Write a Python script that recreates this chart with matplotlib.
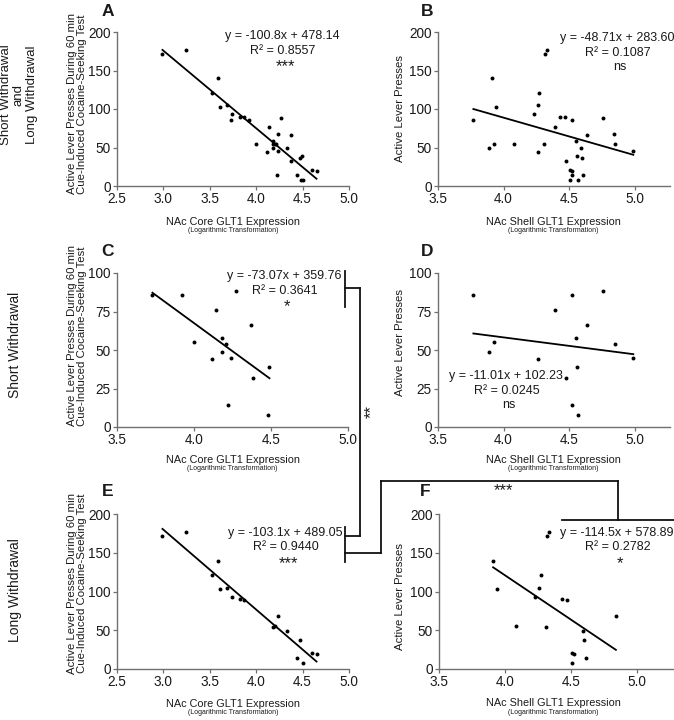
import matplotlib
matplotlib.use("Agg")
import matplotlib.pyplot as plt
from matplotlib.lines import Line2D

plt.rcParams['font.family'] = ['Liberation Sans', 'DejaVu Sans']

# ---------------- data ----------------
# Panel A: NAc core, short + long withdrawal
A_x = [3.73, 3.92, 4.27, 4.14, 4.00, 4.37, 4.18, 4.18, 4.12, 4.24, 4.49, 4.38, 4.22, 4.48, 4.21,
       2.99, 3.24, 3.59, 3.52, 3.61, 3.69, 3.74, 3.83, 3.87, 4.18, 4.20, 4.23, 4.33, 4.47, 4.44, 4.50, 4.60, 4.65]
A_y = [86, 86, 88, 76, 55, 66, 58, 49, 44, 45, 39, 32, 14, 8, 54,
       171, 177, 140, 121, 103, 105, 93, 90, 89, 54, 55, 68, 49, 37, 14, 8, 21, 20]
# Panel B: NAc shell, short + long withdrawal
B_x = [3.77, 4.52, 4.76, 4.39, 4.64, 4.55, 4.85, 3.93, 3.89, 4.26, 4.99, 4.56, 4.48, 4.52, 4.57,
       3.91, 3.94, 4.08, 4.27, 4.26, 4.23, 4.31, 4.32, 4.33, 4.43, 4.47, 4.59, 4.60, 4.51, 4.52, 4.51, 4.61, 4.84]
B_y = [86, 86, 88, 76, 66, 58, 54, 55, 49, 44, 45, 39, 32, 14, 8,
       140, 103, 55, 121, 105, 93, 54, 171, 177, 90, 89, 49, 37, 21, 20, 8, 14, 68]
# Panel C: NAc core, short withdrawal
C_x = [3.73, 3.92, 4.27, 4.14, 4.00, 4.37, 4.18, 4.18, 4.12, 4.24, 4.49, 4.38, 4.22, 4.48, 4.21]
C_y = [86, 86, 88, 76, 55, 66, 58, 49, 44, 45, 39, 32, 14, 8, 54]
# Panel D: NAc shell, short withdrawal
D_x = [3.77, 4.52, 4.76, 4.39, 4.64, 4.55, 4.85, 3.93, 3.89, 4.26, 4.99, 4.56, 4.48, 4.52, 4.57]
D_y = [86, 86, 88, 76, 66, 58, 54, 55, 49, 44, 45, 39, 32, 14, 8]
# Panel E: NAc core, long withdrawal
E_x = [2.99, 3.24, 3.59, 3.52, 3.61, 3.69, 3.74, 3.83, 3.87, 4.18, 4.20, 4.23, 4.33, 4.47, 4.44, 4.50, 4.60, 4.65]
E_y = [171, 177, 140, 121, 103, 105, 93, 90, 89, 54, 55, 68, 49, 37, 14, 8, 21, 20]
# Panel F: NAc shell, long withdrawal
F_x = [3.91, 3.94, 4.08, 4.27, 4.26, 4.23, 4.31, 4.32, 4.33, 4.43, 4.47, 4.59, 4.60, 4.51, 4.52, 4.51, 4.61, 4.84]
F_y = [140, 103, 55, 121, 105, 93, 54, 171, 177, 90, 89, 49, 37, 21, 20, 8, 14, 68]

panel_letters = ['A', 'B', 'C', 'D', 'E', 'F']
slopes = [-100.8, -48.71, -73.07, -11.01, -103.1, -114.5]
intercepts = [478.14, 283.60, 359.76, 102.23, 489.05, 578.89]
r_squared = ['0.8557', '0.1087', '0.3641', '0.0245', '0.9440', '0.2782']
signif = ['***', 'ns', '*', 'ns', '***', '*']
xlabels = ['NAc Core GLT1 Expression', 'NAc Shell GLT1 Expression'] * 3
xsub = '(Logarithmic Transformation)'
ylabel_core = 'Active Lever Presses During 60 min\nCue-Induced Cocaine-Seeking Test'
ylabel_shell = 'Active Lever Presses'
row_labels = ['Short Withdrawal\nand\nLong Withdrawal', 'Short Withdrawal', 'Long Withdrawal']

xs = [A_x, B_x, C_x, D_x, E_x, F_x]
ys = [A_y, B_y, C_y, D_y, E_y, F_y]

# ---------------- layout ----------------
W, H = 674, 720
fig = plt.figure(figsize=(W / 100, H / 100), dpi=100)

def fx(p):
    return p / W

def fy(p):
    return 1 - p / H

# axes rectangles in pixels: (left, right, top, bottom)
rects = [(117, 349, 32, 186), (438, 670, 32, 186),
         (117, 348, 273, 427), (438, 670, 273, 427),
         (117, 349, 514, 669), (439, 674, 514, 669)]
xlims = [(2.5, 5.0), (3.5, 5.27), (3.5, 5.0), (3.5, 5.27), (2.5, 5.0), (3.5, 5.28)]
xticks = [[2.5, 3.0, 3.5, 4.0, 4.5, 5.0], [3.5, 4.0, 4.5, 5.0],
          [3.5, 4.0, 4.5, 5.0], [3.5, 4.0, 4.5, 5.0],
          [2.5, 3.0, 3.5, 4.0, 4.5, 5.0], [3.5, 4.0, 4.5, 5.0]]
ylims = [(0, 200), (0, 200), (0, 100), (0, 100), (0, 200), (0, 200)]
yticks = [[0, 50, 100, 150, 200], [0, 50, 100, 150, 200],
          [0, 25, 50, 75, 100], [0, 25, 50, 75, 100],
          [0, 50, 100, 150, 200], [0, 50, 100, 150, 200]]
# equation text centers (pixels)
eq_pos = [(282, 36), (617, 38), (284, 276), (506, 376), (285, 533), (617, 533)]
letter_pos = [(108, 12), (427, 12), (108, 251), (427, 251), (108, 492), (425, 492)]
ylab_pos = [(77, 104), (400, 108), (77, 336), (400, 343), (77, 583), (400, 597)]
xlab_y = [(222, 231), (222, 231), (460, 469), (460, 469), (704, 713), (703, 712)]

spine_c = '#707070'
text_c = '#1a1a1a'

for i in range(6):
    l, r, t, b = rects[i]
    ax = fig.add_axes([fx(l), fy(b), (r - l) / W, (b - t) / H])
    ax.scatter(xs[i], ys[i], s=8, color='black', linewidths=0, zorder=3, clip_on=False)
    x0, x1 = min(xs[i]), max(xs[i])
    ax.plot([x0, x1], [slopes[i] * x0 + intercepts[i], slopes[i] * x1 + intercepts[i]],
            color='black', lw=1.3, zorder=2)
    ax.set_xlim(*xlims[i])
    ax.set_ylim(*ylims[i])
    ax.set_xticks(xticks[i])
    ax.set_xticklabels([f'{v:.1f}' for v in xticks[i]])
    ax.set_yticks(yticks[i])
    ax.set_yticklabels([str(v) for v in yticks[i]])
    for s in ['top', 'right']:
        ax.spines[s].set_visible(False)
    for s in ['left', 'bottom']:
        ax.spines[s].set_color(spine_c)
        ax.spines[s].set_linewidth(1.0)
    ax.tick_params(direction='out', length=3, width=0.9, colors=spine_c,
                   labelcolor=text_c, labelsize=9.8, pad=1.5)
    ax.patch.set_alpha(0)

    ex, ey = eq_pos[i]
    eq = f'y = {slopes[i]}x + {intercepts[i]:.2f}'
    fig.text(fx(ex), fy(ey), eq, ha='center', va='center', fontsize=9, color=text_c)
    fig.text(fx(ex + 1), fy(ey + 14.5), f'R\u00b2 = {r_squared[i]}', ha='center', va='center',
             fontsize=9, color=text_c)
    if signif[i] == 'ns':
        fig.text(fx(ex + 3), fy(ey + 28.5), signif[i], ha='center', va='center',
                 fontsize=9, color=text_c)
    else:
        fig.text(fx(ex + 3), fy(ey + 31), signif[i], ha='center', va='center',
                 fontsize=12, color=text_c)

    lx, ly = letter_pos[i]
    fig.text(fx(lx), fy(ly), panel_letters[i], ha='center', va='center',
             fontsize=12.5, fontweight='bold', color=text_c)

    yx, yy = ylab_pos[i]
    fig.text(fx(yx), fy(yy), ylabel_core if i % 2 == 0 else ylabel_shell,
             rotation=90, ha='center', va='center', fontsize=8.2, color=text_c,
             linespacing=1.05)

    cx = (l + r) / 2 if i % 2 == 0 else 553
    fig.text(fx(cx), fy(xlab_y[i][0]), xlabels[i], ha='center', va='center',
             fontsize=7.8, color=text_c)
    fig.text(fx(cx), fy(xlab_y[i][1]), xsub, ha='center', va='center',
             fontsize=5, color=text_c)

# row labels
fig.text(fx(19), fy(95), row_labels[0], rotation=90, ha='center', va='center',
         fontsize=9.5, color=text_c, linespacing=1.1, multialignment='center')
fig.text(fx(15), fy(345), row_labels[1], rotation=90, ha='center', va='center',
         fontsize=10, color=text_c)
fig.text(fx(15), fy(590), row_labels[2], rotation=90, ha='center', va='center',
         fontsize=10, color=text_c)

# comparison brackets (figure pixel coordinates)
segments = [
    ((345, 271), (345, 307)),
    ((345, 288), (360, 288)),
    ((360, 288), (360, 536)),
    ((345, 536), (360, 536)),
    ((345, 527), (345, 562)),
    ((345, 553), (381, 553)),
    ((381, 553), (381, 481)),
    ((381, 481), (618, 481)),
    ((618, 481), (618, 520)),
    ((562, 520), (674, 520)),
]
for (x0, y0), (x1, y1) in segments:
    fig.add_artist(Line2D([fx(x0), fx(x1)], [fy(y0), fy(y1)], color='#111111', lw=1.3,
                          transform=fig.transFigure))
fig.text(fx(371), fy(412), '**', rotation=90, ha='center', va='center', fontsize=12, color=text_c)
fig.text(fx(503), fy(491), '***', ha='center', va='center', fontsize=12, color=text_c)

fig.savefig('out.png', dpi=100)
